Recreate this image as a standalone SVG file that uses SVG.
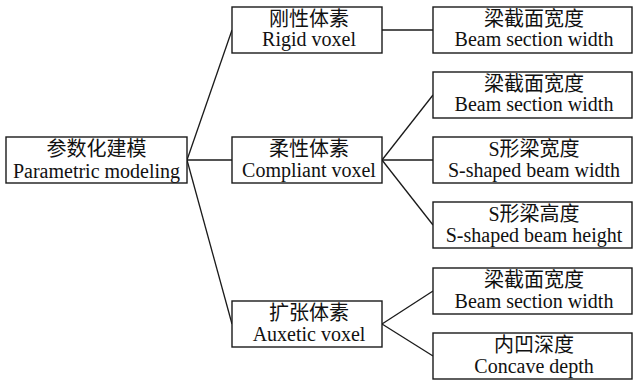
<svg xmlns="http://www.w3.org/2000/svg" width="633" height="380" viewBox="0 0 633 380">
<style>
.box{fill:#fff;stroke:#1a1a1a;stroke-width:1.4}
.ln{stroke:#1a1a1a;stroke-width:1.3;fill:none}
.zh{font-family:"Liberation Serif","Noto Sans CJK SC",serif;font-size:20px;fill:#111;text-anchor:middle}
.en{font-family:"Liberation Serif","Noto Sans CJK SC",serif;font-size:20px;fill:#111;text-anchor:middle}
</style>
<rect width="633" height="380" fill="#fff"/>
<g id="connectors">
<line class="ln" x1="187" y1="160" x2="232" y2="30"/>
<line class="ln" x1="187" y1="160" x2="232" y2="160"/>
<line class="ln" x1="187" y1="160" x2="232" y2="324"/>
<line class="ln" x1="382" y1="30" x2="433" y2="30"/>
<line class="ln" x1="382" y1="160" x2="433" y2="95"/>
<line class="ln" x1="382" y1="160" x2="433" y2="160"/>
<line class="ln" x1="382" y1="160" x2="433" y2="225"/>
<line class="ln" x1="382" y1="324" x2="433" y2="291"/>
<line class="ln" x1="382" y1="324" x2="433" y2="356"/>
</g>
<g id="root">
<rect class="box" x="6" y="137" width="181" height="46"/>
<text class="zh" x="96.5" y="155.5">参数化建模</text>
<text class="en" x="96.5" y="177.5">Parametric modeling</text>
</g>
<g id="rigid">
<rect class="box" x="232" y="7" width="150" height="46"/>
<text class="zh" x="309" y="25.5">刚性体素</text>
<text class="en" x="309" y="46">Rigid voxel</text>
</g>
<g id="compliant">
<rect class="box" x="232" y="137" width="150" height="46"/>
<text class="zh" x="309" y="155.5">柔性体素</text>
<text class="en" x="309" y="176.5">Compliant voxel</text>
</g>
<g id="auxetic">
<rect class="box" x="232" y="301" width="150" height="46"/>
<text class="zh" x="309" y="319.5">扩张体素</text>
<text class="en" x="309" y="340.5">Auxetic voxel</text>
</g>
<g id="leaf1">
<rect class="box" x="433" y="7" width="199" height="46"/>
<text class="zh" x="534" y="25.5">梁截面宽度</text>
<text class="en" x="534" y="46">Beam section width</text>
</g>
<g id="leaf2">
<rect class="box" x="433" y="72" width="199" height="46"/>
<text class="zh" x="534" y="90.5">梁截面宽度</text>
<text class="en" x="534" y="111">Beam section width</text>
</g>
<g id="leaf3">
<rect class="box" x="433" y="137" width="199" height="46"/>
<text class="zh" x="534" y="155.5">S形梁宽度</text>
<text class="en" x="534" y="176.5">S-shaped beam width</text>
</g>
<g id="leaf4">
<rect class="box" x="433" y="202" width="199" height="46"/>
<text class="zh" x="534" y="220.5">S形梁高度</text>
<text class="en" x="534" y="241.5">S-shaped beam height</text>
</g>
<g id="leaf5">
<rect class="box" x="433" y="268" width="199" height="46"/>
<text class="zh" x="534" y="286.5">梁截面宽度</text>
<text class="en" x="534" y="307.5">Beam section width</text>
</g>
<g id="leaf6">
<rect class="box" x="433" y="333" width="199" height="46"/>
<text class="zh" x="534" y="351.5">内凹深度</text>
<text class="en" x="534" y="372.5">Concave depth</text>
</g>
</svg>
